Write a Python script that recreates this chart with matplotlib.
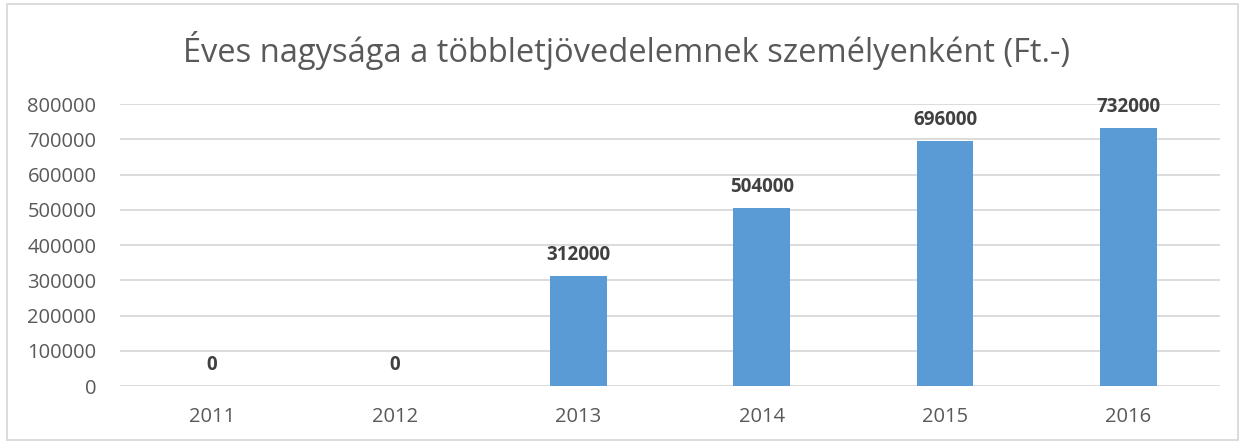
import matplotlib.pyplot as plt
from matplotlib.patches import Rectangle

# data
years = ['2011', '2012', '2013', '2014', '2015', '2016']
values = [0, 0, 312000, 504000, 696000, 732000]
yticks = [0, 100000, 200000, 300000, 400000, 500000, 600000, 700000, 800000]

plt.rcParams['font.family'] = ['Open Sans', 'DejaVu Sans']

fig = plt.figure(figsize=(12.47, 4.44), dpi=100)
ax = fig.add_axes([120 / 1247, 1 - 386 / 444, 1100 / 1247, 282 / 444])

x = range(len(years))
ax.bar(x, values, width=0.31, color='#5b9bd5', zorder=3)
for xi, v in zip(x, values):
    ax.annotate(str(v), (xi, v), xytext=(0, 8), textcoords='offset points',
                ha='center', va='bottom', fontsize=13.5, fontweight='bold',
                color='#404040')

ax.set_xlim(-0.5, len(years) - 0.5)
ax.set_ylim(0, 800000)
ax.set_xticks(list(x))
ax.set_xticklabels(years)
ax.set_yticks(yticks)
ax.set_yticklabels([str(t) for t in yticks])
ax.tick_params(axis='both', length=0, labelsize=14.5, labelcolor='#595959')
ax.tick_params(axis='x', pad=15)
ax.tick_params(axis='y', pad=17)
ax.grid(axis='y', color='#d9d9d9', linewidth=1.3, zorder=0)
for s in ax.spines.values():
    s.set_visible(False)

fig.text(627 / 1247, 1 - 50 / 444, 'Éves nagysága a többletjövedelemnek személyenként (Ft.-)',
         ha='center', va='center', fontsize=23.5, color='#595959')

fig.patches.append(Rectangle((7 / 1247, 4 / 444), 1231 / 1247, 436 / 444,
                             transform=fig.transFigure, fill=False,
                             edgecolor='#d9d9d9', linewidth=1.3))

fig.savefig('out.png', dpi=100)
